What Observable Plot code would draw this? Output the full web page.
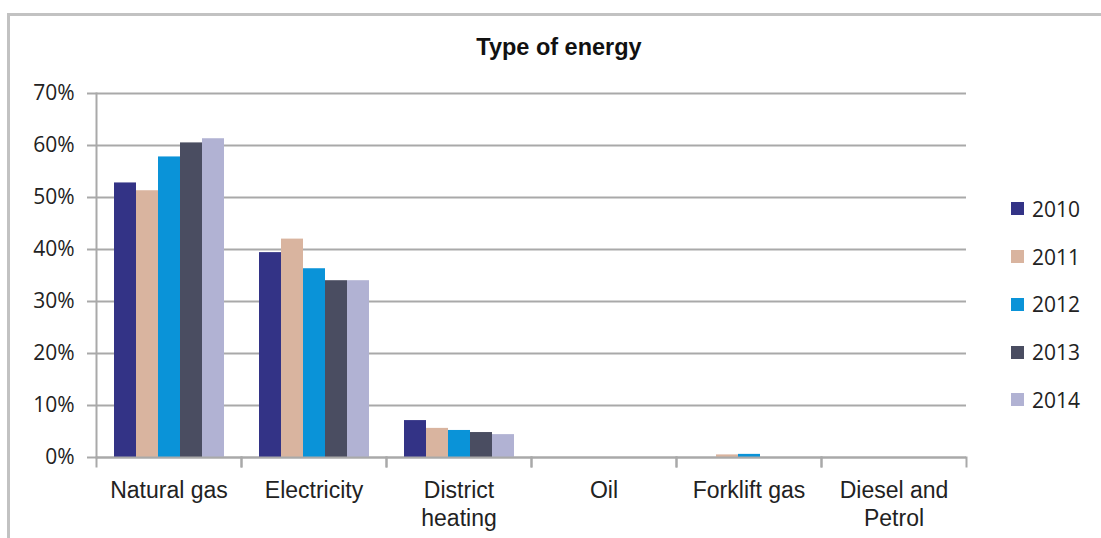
<!DOCTYPE html>
<html>
<head>
<meta charset="utf-8">
<script src="https://cdn.jsdelivr.net/npm/d3@7"></script>
<script src="https://cdn.jsdelivr.net/npm/@observablehq/plot@0.6"></script>
<style>
  html, body { margin: 0; padding: 0; background: #fff; }
  #wrap { position: relative; width: 1101px; height: 538px; overflow: hidden; background: #fff; }
  #border { position: absolute; left: 7px; top: 13px; width: 1200px; height: 600px;
            border-top: 3px solid #c2c2c2; border-left: 3px solid #c2c2c2; }
  #title { position: absolute; left: 0; width: 1118px; top: 36px; text-align: center;
           font: bold 23.5px "Liberation Sans", Arial, sans-serif; line-height: 1; color: #111; }
  #chart { position: absolute; left: 0; top: 0; }
  #legend { position: absolute; left: 1011px; top: 185px; font: 21px "Open Sans", sans-serif; color: #222; }
  .item { display: flex; align-items: center; height: 47.75px; }
  .sw { width: 13px; height: 13px; margin-right: 8px; }
</style>
</head>
<body>
<div id="wrap">
  <div id="border"></div>
  <div id="chart"></div>
  <div id="title"></div>
  <div id="legend"></div>
</div>
<script>
const title = "Type of energy";
const categories = ["Natural gas", "Electricity", "District heating", "Oil", "Forklift gas", "Diesel and Petrol"];
const categoryLabels = ["Natural gas", "Electricity", "District\nheating", "Oil", "Forklift gas", "Diesel and\nPetrol"];
const years = ["2010", "2011", "2012", "2013", "2014"];
const colors = ["#333386", "#d9b49f", "#0a93d8", "#4a4d61", "#b1b2d3"];
// share of energy use (%), per year, in category order
const v2010 = [52.8, 39.4, 7.1, 0, 0, 0];
const v2011 = [51.3, 42.0, 5.6, 0, 0.5, 0];
const v2012 = [57.8, 36.3, 5.2, 0, 0.6, 0];
const v2013 = [60.5, 34.0, 4.8, 0, 0, 0];
const v2014 = [61.3, 34.0, 4.4, 0, 0, 0];
const yTicks = [0, 10, 20, 30, 40, 50, 60, 70];

const series = [v2010, v2011, v2012, v2013, v2014];
const data = [];
categories.forEach((c, i) => years.forEach((y, j) => data.push({category: c, year: y, value: series[j][i] / 100})));

document.getElementById("title").textContent = title;

const grey = "#a9a9a9";
const labelOf = new Map(categories.map((c, i) => [c, categoryLabels[i]]));
const W = 1101, H = 538, mTop = 93, mBottom = 81;

const chart = Plot.plot({
  width: W,
  height: H,
  marginTop: mTop,
  marginBottom: mBottom,
  marginLeft: 94,
  marginRight: 133,
  style: {fontFamily: "'Liberation Sans', Arial, sans-serif", color: "#222", background: "transparent"},
  fx: {domain: categories, padding: 0, label: null, axis: null},
  x: {domain: years, type: "band", paddingInner: 0, paddingOuter: 0.72, axis: null},
  y: {domain: [0, 0.7], label: null},
  color: {domain: years, range: colors},
  marks: [
    Plot.gridY(yTicks.map(d => d / 100), {stroke: grey, strokeOpacity: 1, strokeWidth: 2}),
    Plot.barY(data, {fx: "category", x: "year", y: "value", fill: "year"}),
    Plot.ruleY([0], {stroke: grey, strokeWidth: 2}),
    Plot.frame({anchor: "left", stroke: grey, strokeWidth: 2, insetTop: H - mTop - mBottom, insetBottom: -9}),
    Plot.frame({anchor: "right", stroke: grey, strokeWidth: 2, insetTop: H - mTop - mBottom, insetBottom: -9}),
    Plot.frame({anchor: "left", fx: () => categories[0], stroke: grey, strokeWidth: 2}),
    Plot.axisY(yTicks.map(d => d / 100), {
      tickFormat: d => Math.round(d * 100) + "%",
      tickSize: 9, tickPadding: 13, stroke: grey, strokeWidth: 2, strokeOpacity: 1,
      fontSize: 21, fontFamily: "'Open Sans', sans-serif", fill: "#222", label: null
    }),
    Plot.axisFx({
      anchor: "bottom",
      tickFormat: d => labelOf.get(d), tickSize: 0, tickPadding: 21,
      fontSize: 23, lineHeight: 1.22, fill: "#222", label: null
    })
  ]
});
document.getElementById("chart").appendChild(chart);

const legend = document.getElementById("legend");
years.forEach((y, j) => {
  const item = document.createElement("div");
  item.className = "item";
  const sw = document.createElement("div");
  sw.className = "sw";
  sw.style.background = colors[j];
  const t = document.createElement("span");
  t.textContent = y;
  item.appendChild(sw);
  item.appendChild(t);
  legend.appendChild(item);
});
</script>
</body>
</html>
